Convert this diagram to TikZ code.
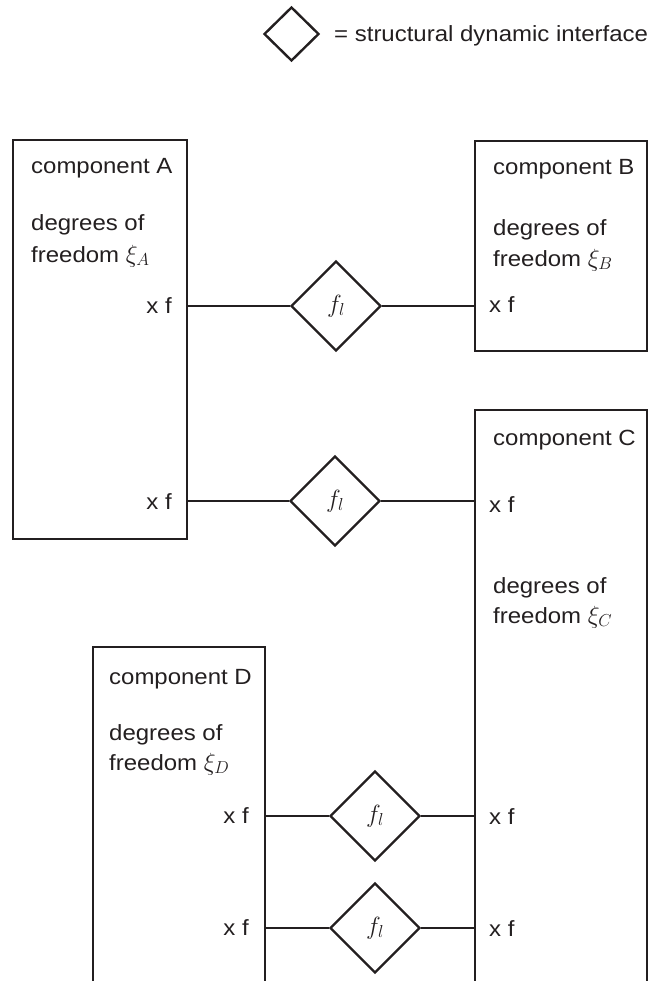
\documentclass[tikz,border=0pt]{standalone}
\usepackage{fontspec}
\setmainfont{Liberation Sans}[FakeStretch=1.09]
\usetikzlibrary{shapes.geometric}
\definecolor{ink}{HTML}{231F20}
\begin{document}
\begin{tikzpicture}[x=1pt,y=-1pt, line width=2.4pt, color=ink,
  every node/.style={font=\fontsize{22}{26}\selectfont},
  comp/.style={draw, rectangle, inner sep=0pt},
  iface/.style={draw, diamond, aspect=1, inner sep=0pt, minimum width=90pt, minimum height=90pt, font=\fontsize{26}{28}\selectfont},
  lbl/.style={anchor=base west, inner sep=0pt},
  lblr/.style={anchor=base east, inner sep=0pt}]
\useasboundingbox (0,0) rectangle (654,981);
\clip (-5,-5) rectangle (659,981);

% legend
\node[iface, minimum width=55pt, minimum height=54pt] (key) at (291.5,34) {};
\node[lbl] (keytext) at (333,42) {= structural dynamic interface};

% components
\node[comp, minimum width=174pt, minimum height=399pt] (A) at (100,339.5) {};
\node[comp, minimum width=172pt, minimum height=210pt] (B) at (561,246) {};
\node[comp, minimum width=172pt, minimum height=600pt] (C) at (561,710) {};
\node[comp, minimum width=172pt, minimum height=363pt] (D) at (179,828.5) {};

% component texts
\node[lbl] (At) at (30,174) {component A};
\node[lbl] (Ad1) at (30,231) {degrees of};
\node[lbl] (Ad2) at (30,262) {freedom {\fontsize{24}{26}\selectfont$\xi_A$}};
\node[lblr] (Ax1) at (173,313) {x f};
\node[lblr] (Ax2) at (173,509) {x f};

\node[lbl] (Bt) at (492,175) {component B};
\node[lbl] (Bd1) at (492,236) {degrees of};
\node[lbl] (Bd2) at (492,266) {freedom {\fontsize{24}{26}\selectfont$\xi_B$}};
\node[lbl] (Bx1) at (488,312) {x f};

\node[lbl] (Ct) at (492,445) {component C};
\node[lbl] (Cx1) at (488,512) {x f};
\node[lbl] (Cd1) at (492,593) {degrees of};
\node[lbl] (Cd2) at (492,623) {freedom {\fontsize{24}{26}\selectfont$\xi_C$}};
\node[lbl] (Cx2) at (488,824) {x f};
\node[lbl] (Cx3) at (488,936) {x f};

\node[lbl] (Dt) at (108,684) {component D};
\node[lbl] (Dd1) at (108,740) {degrees of};
\node[lbl] (Dd2) at (108,770) {freedom {\fontsize{24}{26}\selectfont$\xi_D$}};
\node[lblr] (Dx1) at (250,823) {x f};
\node[lblr] (Dx2) at (250,935) {x f};

% interfaces
\node[iface] (I1) at (336,306) {$f_l$};
\node[iface] (I2) at (335,501) {$f_l$};
\node[iface] (I3) at (375,816) {$f_l$};
\node[iface] (I4) at (375,928) {$f_l$};

% connectors
\draw (I1.west) -- (I1.west -| A.east);
\draw (I1.east) -- (I1.east -| B.west);
\draw (I2.west) -- (I2.west -| A.east);
\draw (I2.east) -- (I2.east -| C.west);
\draw (I3.west) -- (I3.west -| D.east);
\draw (I3.east) -- (I3.east -| C.west);
\draw (I4.west) -- (I4.west -| D.east);
\draw (I4.east) -- (I4.east -| C.west);
\end{tikzpicture}
\end{document}
